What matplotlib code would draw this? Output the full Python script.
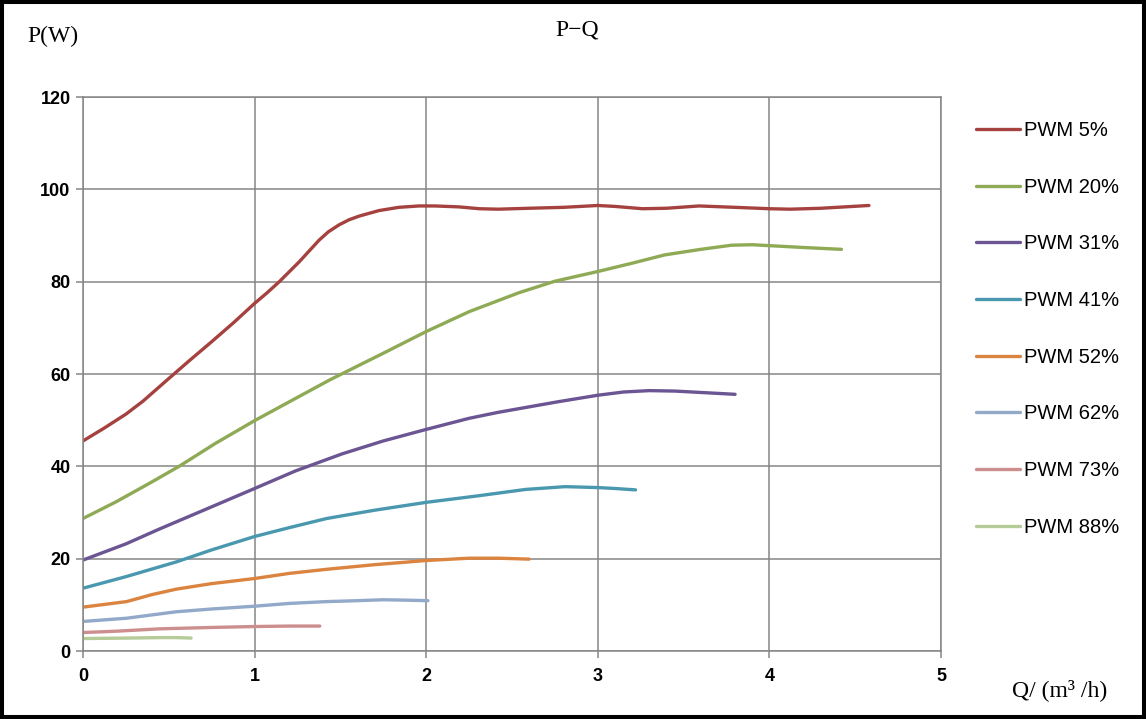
import matplotlib
matplotlib.use("Agg")
import matplotlib.pyplot as plt
from matplotlib.patches import Rectangle

# ---------------- data ----------------
labels = ["PWM 5%", "PWM 20%", "PWM 31%", "PWM 41%", "PWM 52%", "PWM 62%", "PWM 73%", "PWM 88%"]

q5 = [0, 0.12, 0.25, 0.349, 0.49, 0.62, 0.75, 0.88, 1.0, 1.07, 1.144, 1.26, 1.376, 1.43, 1.492, 1.55,
      1.609, 1.725, 1.84, 1.958, 2.05, 2.19, 2.31, 2.42, 2.6, 2.8, 3.0, 3.1, 3.26, 3.4, 3.59, 3.8,
      4.0, 4.12, 4.3, 4.58]
p5 = [45.5, 48.2, 51.3, 54.1, 58.7, 62.9, 67.0, 71.2, 75.3, 77.5, 80.0, 84.3, 89.0, 90.8, 92.3, 93.4,
      94.2, 95.4, 96.1, 96.4, 96.4, 96.2, 95.8, 95.7, 95.9, 96.1, 96.5, 96.3, 95.8, 95.9, 96.4, 96.1,
      95.8, 95.7, 95.9, 96.5]

q20 = [0, 0.192, 0.386, 0.56, 0.773, 1.0, 1.238, 1.442, 1.75, 2.0, 2.25, 2.54, 2.75, 3.0, 3.2, 3.39,
       3.6, 3.78, 3.9, 4.0, 4.2, 4.42]
p20 = [28.7, 32.3, 36.3, 40.0, 45.0, 49.9, 54.7, 58.8, 64.5, 69.2, 73.5, 77.6, 80.1, 82.2, 84.0, 85.8,
       87.0, 87.9, 88.0, 87.8, 87.4, 87.0]

q31 = [0, 0.25, 0.444, 0.773, 1.0, 1.238, 1.51, 1.75, 2.0, 2.25, 2.42, 2.77, 3.0, 3.15, 3.3, 3.45, 3.6, 3.8]
p31 = [19.7, 23.2, 26.4, 31.6, 35.2, 39.0, 42.7, 45.5, 48.0, 50.4, 51.7, 54.0, 55.4, 56.1, 56.4, 56.3, 56.0, 55.6]

q41 = [0, 0.25, 0.544, 0.75, 1.0, 1.2, 1.42, 1.7, 2.0, 2.3, 2.58, 2.81, 3.0, 3.1, 3.22]
p41 = [13.6, 16.1, 19.3, 21.9, 24.8, 26.7, 28.7, 30.5, 32.2, 33.6, 35.0, 35.6, 35.4, 35.2, 34.9]

q52 = [0, 0.254, 0.4, 0.544, 0.75, 1.0, 1.2, 1.42, 1.7, 2.0, 2.25, 2.42, 2.6]
p52 = [9.5, 10.7, 12.2, 13.4, 14.6, 15.7, 16.8, 17.7, 18.7, 19.6, 20.1, 20.1, 19.9]

q62 = [0, 0.254, 0.544, 0.75, 1.0, 1.2, 1.42, 1.6, 1.75, 1.9, 2.01]
p62 = [6.4, 7.1, 8.5, 9.1, 9.7, 10.3, 10.7, 10.9, 11.1, 11.0, 10.9]

q73 = [0, 0.2, 0.446, 0.75, 1.0, 1.2, 1.38]
p73 = [4.0, 4.3, 4.8, 5.1, 5.3, 5.4, 5.4]

q88 = [0, 0.25, 0.45, 0.55, 0.63]
p88 = [2.7, 2.8, 2.9, 2.9, 2.8]

x_ticks = [0, 1, 2, 3, 4, 5]
y_ticks = [0, 20, 40, 60, 80, 100, 120]

colors = ["#A5423F", "#8EAA55", "#6B5592", "#4A98AF", "#DB8440", "#93A9C9", "#CD8E8E", "#B5CB98"]

series = [(q5, p5), (q20, p20), (q31, p31), (q41, p41), (q52, p52), (q62, p62), (q73, p73), (q88, p88)]

# ---------------- figure ----------------
W, H = 1146, 719
fig = plt.figure(figsize=(W / 100, H / 100), dpi=100)
fig.patch.set_facecolor("white")

ax = fig.add_axes([83 / W, 1 - 651 / H, (941 - 83) / W, (651 - 97) / H])

for (q, p), c, lab in zip(series, colors, labels):
    ax.plot(q, p, color=c, lw=2.4, label=lab, solid_capstyle="round", solid_joinstyle="round")

ax.set_xlim(0, 5)
ax.set_ylim(0, 120)
ax.set_xticks(x_ticks)
ax.set_yticks(y_ticks)
ax.grid(True, color="#868686", lw=1.1)
ax.set_axisbelow(True)
for s in ax.spines.values():
    s.set_color("#868686")
    s.set_linewidth(1.1)
ax.tick_params(axis="both", direction="out", length=5, width=1.1, color="#868686",
               labelsize=13, labelcolor="black")
ax.tick_params(axis="x", pad=7)
ax.tick_params(axis="y", pad=4)
for t in ax.get_xticklabels() + ax.get_yticklabels():
    t.set_fontfamily("Liberation Sans")
    t.set_fontweight("bold")

serif = ["Liberation Serif", "Noto Sans CJK SC", "DejaVu Serif"]
fig.text(577 / W, 1 - 30 / H, "P−Q", ha="center", va="center", fontsize=17, family=serif)
fig.text(27 / W, 1 - 36 / H, "P(W)", ha="left", va="center", fontsize=17, family=serif)
fig.text(1012 / W, 1 - 690 / H, "Q/ (m³ /h)", ha="left", va="center", fontsize=17, family=serif)

leg = fig.legend(loc="upper left", bbox_to_anchor=(958 / W, 1 - 103 / H), frameon=False,
                 prop={"family": "Liberation Sans", "size": 14.5},
                 handlelength=2.18, handletextpad=0.2, labelspacing=1.87)

fig.add_artist(Rectangle((0, 0), 1, 1, transform=fig.transFigure, fill=False,
                         ec="black", lw=5.8, clip_on=False))

fig.savefig("out.png", dpi=100, facecolor="white")
